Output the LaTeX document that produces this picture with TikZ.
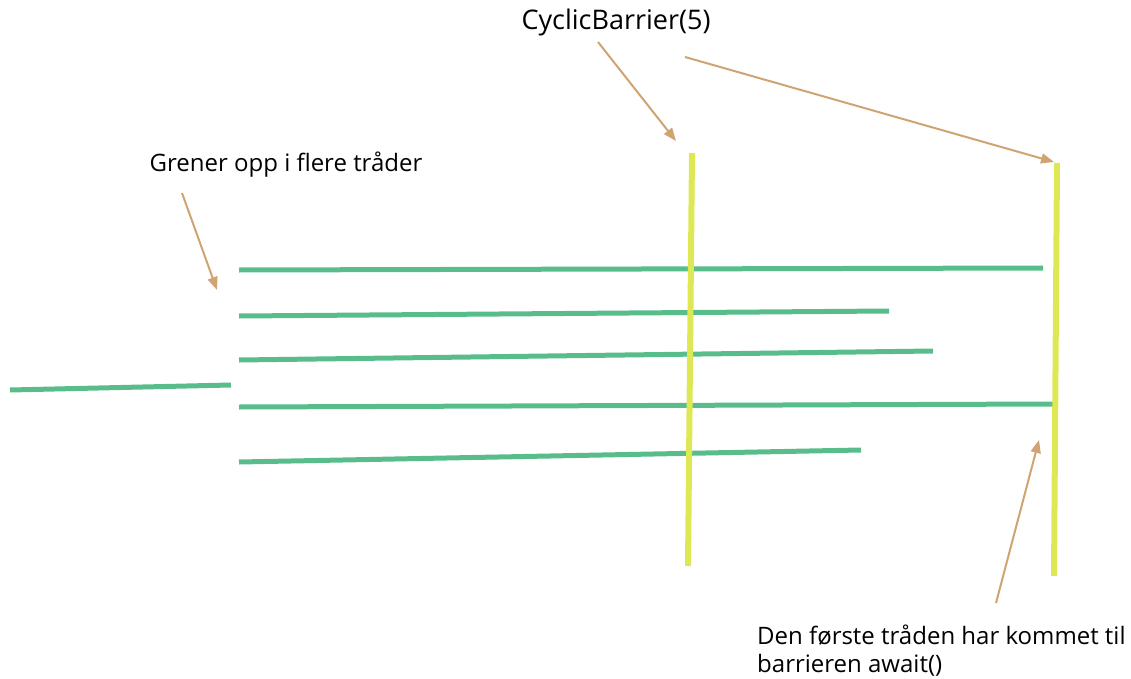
\documentclass[tikz,border=0pt]{standalone}
\usepackage{fontspec}
\setmainfont{Open Sans}
\usetikzlibrary{arrows.meta}
\definecolor{traad}{RGB}{88,189,138}
\definecolor{barriere}{RGB}{222,232,84}
\definecolor{pil}{RGB}{208,164,114}

\begin{document}
\begin{tikzpicture}[x=1pt,y=-1pt,
    traadlinje/.style={traad,line width=5pt},
    barlinje/.style={barriere,line width=6pt},
    peker/.style={pil,line width=2pt,-{Triangle[length=13pt,width=10pt]}},
    tekst/.style={inner sep=0pt,font=\fontsize{24}{28}\selectfont}]
        \useasboundingbox (0,0) rectangle (1131,679);
        % tekst
        \node[tekst,font=\fontsize{27}{30}\selectfont] (cb) at (616,22) {CyclicBarrier(5)};
        \node[tekst] (gren) at (286,165) {Grener opp i flere tråder};
        \node[tekst,anchor=west,align=left] (forst) at (757,651) {Den første tråden har kommet til\\barrieren await()};
        % hovedtraad
        \coordinate (h0) at (10,390); \coordinate (h1) at (231,385);
        \draw[traadlinje] (h0) -- (h1);
        % traadene
        \foreach\n/\ya/\xb/\yb in {1/270/1043/268, 2/316/889/311, 3/360/933/351, 4/407/1053/404, 5/462/861/450}{
            \coordinate (t\n a) at (239,\ya); \coordinate (t\n b) at (\xb,\yb);
            \draw[traadlinje] (t\n a) -- (t\n b);
        }
        % barrierer
        \coordinate (b1a) at (692,153); \coordinate (b1b) at (688,566);
        \coordinate (b2a) at (1057,163); \coordinate (b2b) at (1054,576);
        \draw[barlinje] (b1a) -- (b1b);
        \draw[barlinje] (b2a) -- (b2b);
        % piler
        \coordinate (p1) at (598,42); \coordinate (p1e) at (676,141);
        \coordinate (p2) at (685,57); \coordinate (p2e) at (1054,162);
        \coordinate (p3) at (182,193); \coordinate (p3e) at (217,290);
        \coordinate (p4) at (996,603); \coordinate (p4e) at (1039,440);
        \draw[peker] (p1) -- (p1e);
        \draw[peker] (p2) -- (p2e);
        \draw[peker] (p3) -- (p3e);
        \draw[peker] (p4) -- (p4e);
\end{tikzpicture}
\end{document}
